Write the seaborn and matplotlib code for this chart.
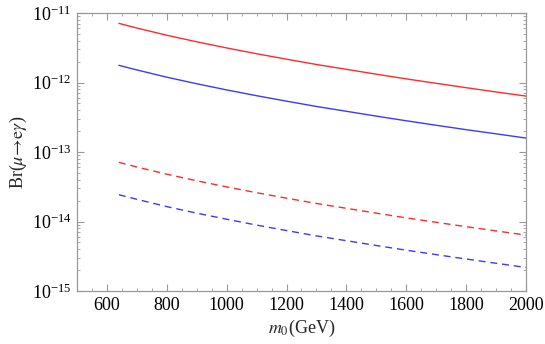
import numpy as np
import pandas as pd
import matplotlib
matplotlib.use("Agg")
import matplotlib.pyplot as plt
import matplotlib.ticker as mticker
import seaborn as sns

# values
m0 = [640, 700, 800, 900, 1000, 1100, 1200, 1300, 1400, 1500, 1600, 1700, 1800, 1900, 2000]
red_solid = [7.11e-12, 6.09e-12, 4.80e-12, 3.86e-12, 3.15e-12, 2.60e-12, 2.17e-12, 1.82e-12,
             1.55e-12, 1.32e-12, 1.13e-12, 9.75e-13, 8.44e-13, 7.33e-13, 6.39e-13]
blue_solid = [1.77e-12, 1.52e-12, 1.195e-12, 9.61e-13, 7.84e-13, 6.47e-13, 5.40e-13, 4.53e-13,
              3.86e-13, 3.29e-13, 2.82e-13, 2.43e-13, 2.10e-13, 1.83e-13, 1.59e-13]
red_dashed = [7.11e-14, 6.09e-14, 4.80e-14, 3.86e-14, 3.15e-14, 2.60e-14, 2.17e-14, 1.82e-14,
              1.55e-14, 1.32e-14, 1.13e-14, 9.75e-15, 8.44e-15, 7.33e-15, 6.39e-15]
blue_dashed = [2.43e-14, 2.09e-14, 1.64e-14, 1.32e-14, 1.08e-14, 8.89e-15, 7.42e-15, 6.22e-15,
               5.30e-15, 4.52e-15, 3.87e-15, 3.34e-15, 2.89e-15, 2.51e-15, 2.18e-15]

series = {"red_solid": red_solid, "blue_solid": blue_solid,
          "red_dashed": red_dashed, "blue_dashed": blue_dashed}
df = pd.concat([pd.DataFrame({"m0": m0, "br": v, "curve": k}) for k, v in series.items()])

palette = {"red_solid": "#ff2a2a", "blue_solid": "#3a3aff",
           "red_dashed": "#ff2a2a", "blue_dashed": "#3a3aff"}
dashes = {"red_solid": "", "blue_solid": "",
          "red_dashed": (5, 3.5), "blue_dashed": (5, 3.5)}

sns.set_style("ticks")
plt.rcParams["font.family"] = ["Liberation Serif", "DejaVu Serif"]
plt.rcParams["mathtext.fontset"] = "stix"
grey = "#999999"

fig = plt.figure(figsize=(5.45, 3.44), dpi=100)
ax = fig.add_axes([0.1413, 0.154, 0.8237, 0.808])

sns.lineplot(data=df, x="m0", y="br", hue="curve", style="curve",
             palette=palette, dashes=dashes, linewidth=1.0, ax=ax, legend=False)

ax.set_yscale("log")
ax.set_xlim(500, 2000)
ax.set_ylim(1e-15, 1e-11)

ax.xaxis.set_major_locator(mticker.FixedLocator([600, 800, 1000, 1200, 1400, 1600, 1800, 2000]))
ax.xaxis.set_minor_locator(mticker.MultipleLocator(50))
ax.yaxis.set_major_locator(mticker.LogLocator(base=10, numticks=10))
ax.yaxis.set_minor_locator(mticker.LogLocator(base=10, subs=np.arange(2, 10), numticks=10))
ax.yaxis.set_major_formatter(mticker.LogFormatterSciNotation())
ax.yaxis.set_minor_formatter(mticker.NullFormatter())

for s in ax.spines.values():
    s.set_visible(True)
    s.set_color(grey)
    s.set_linewidth(0.9)
ax.tick_params(which="both", direction="in", top=True, right=True, color=grey,
               labelsize=13, labelcolor="black", pad=4)
ax.tick_params(which="major", length=5, width=0.8)
ax.tick_params(which="minor", length=2.5, width=0.6)

ax.set_xlabel(r"$m_0$(GeV)", fontsize=13, labelpad=3)
ax.set_ylabel(r"Br($\mu\!\rightarrow\!\mathrm{e}\gamma$)", fontsize=13, labelpad=2)

fig.savefig("out.png", dpi=100)
